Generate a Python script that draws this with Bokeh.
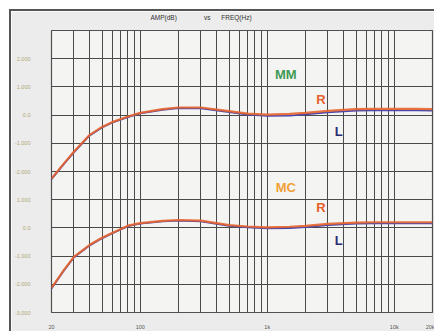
from bokeh.plotting import figure
from bokeh.models import FixedTicker, ColumnDataSource, Title
from bokeh.core.properties import value
from bokeh.embed import file_html
from bokeh.resources import INLINE

# ---- data ----
freq = [20, 25, 30, 40, 50, 60, 80, 100, 150, 200, 300, 500, 700,
        1000, 1500, 2000, 3000, 5000, 7000, 10000, 15000, 20000]
mm_r = [-2.25, -1.72, -1.30, -0.70, -0.42, -0.25, -0.05, 0.08, 0.21, 0.27, 0.27, 0.14, 0.05,
        0.02, 0.04, 0.08, 0.15, 0.21, 0.22, 0.22, 0.22, 0.21]
mm_l = [-2.27, -1.74, -1.32, -0.72, -0.44, -0.27, -0.07, 0.06, 0.19, 0.25, 0.24, 0.11, 0.02,
        -0.03, -0.02, 0.03, 0.10, 0.16, 0.17, 0.17, 0.17, 0.16]
mc_r = [-2.13, -1.50, -1.03, -0.60, -0.35, -0.18, 0.08, 0.17, 0.25, 0.28, 0.26, 0.10, 0.05,
        0.02, 0.04, 0.07, 0.14, 0.19, 0.20, 0.20, 0.20, 0.20]
mc_l = [-2.15, -1.52, -1.05, -0.62, -0.37, -0.20, 0.06, 0.15, 0.23, 0.26, 0.23, 0.07, 0.02,
        -0.02, -0.01, 0.03, 0.10, 0.15, 0.16, 0.16, 0.16, 0.16]
MC_OFFSET = -4  # MC trace drawn 4 dB divisions below MM

mm_ticks = [2, 1, 0, -1, -2]
mm_tick_labels = ["2.000", "1.000", "0.0", "-1.000", "-2.000"]
mc_ticks = [1, 0, -1, -2, -3]
mc_tick_labels = ["1.000", "0.0", "-1.000", "-2.000", "-3.000"]

x_ticks = [20, 100, 1000, 10000, 20000]
x_tick_labels = ["20", "100", "1k", "10k", "20k"]

grid_freqs = [m * d for d in (10, 100, 1000, 10000) for m in range(1, 10)
              if 20 <= m * d <= 20000] + [20000]
grid_levels = list(range(-7, 4))

title_text = "AMP(dB)" + "\u00a0" * 15 + "vs" + "\u00a0" * 6 + "FREQ(Hz)"

# text annotations: (text, freq, level, color)
notes = [("MM", 1400, 1.45, "#3f9a55"), ("R", 2650, 0.57, "#e8602a"), ("L", 3650, -0.57, "#2c2c70"),
         ("MC", 1400, -2.58, "#f0a035"), ("R", 2650, -3.29, "#e8602a"), ("L", 3650, -4.43, "#2c2c70")]

# ---- figure ----
p = figure(width=425, height=322, x_axis_type="log", x_range=(20, 20000), y_range=(-7, 3),
           output_backend="svg", toolbar_location=None, title=None,
           min_border_left=40, min_border_right=4, min_border_top=19, min_border_bottom=21,
           background_fill_color="#f4f4f3", border_fill_color="#ebeceb")
p.styles = {"border-left": "2px solid #555", "border-top": "2px solid #555",
            "margin-left": "9px", "margin-top": "9px"}

# spacer panel next to the frame, then the real title further out
p.add_layout(Title(text="\u00a0", text_font="Liberation Sans", text_font_size="6.5px",
                   standoff=1), "above")
p.add_layout(Title(text=title_text, align="left", offset=99, text_font="Liberation Sans",
                   text_font_size="6.5px", text_font_style="normal", text_color="#333333",
                   standoff=0), "above")

p.outline_line_color = "#505050"
p.outline_line_width = 1.2

p.xgrid.ticker = FixedTicker(ticks=grid_freqs)
p.ygrid.ticker = FixedTicker(ticks=grid_levels)
for g in (p.xgrid, p.ygrid):
    g.grid_line_color = "#4a4a4a"
    g.grid_line_width = 1
    g.grid_line_alpha = 1

p.xaxis.ticker = FixedTicker(ticks=x_ticks)
p.xaxis.major_label_overrides = {t: s for t, s in zip(x_ticks, x_tick_labels)}
p.xaxis.axis_line_color = None
p.xaxis.major_tick_line_color = None
p.xaxis.minor_tick_line_color = None
p.xaxis.major_label_text_font = "Liberation Sans"
p.xaxis.major_label_text_font_size = "5.5px"
p.xaxis.major_label_text_color = "#555555"
p.xaxis.major_label_standoff = 5

# y tick labels: MM scale above, MC scale below (MC shifted by MC_OFFSET)
y_pos = mm_ticks + [t + MC_OFFSET for t in mc_ticks]
y_lab = mm_tick_labels + mc_tick_labels
p.yaxis.ticker = FixedTicker(ticks=y_pos)
p.yaxis.major_label_overrides = {t: s for t, s in zip(y_pos, y_lab)}
p.yaxis.axis_line_color = None
p.yaxis.major_tick_line_color = None
p.yaxis.minor_tick_line_color = None
p.yaxis.major_label_text_font = "Liberation Sans"
p.yaxis.major_label_text_font_size = "5.5px"
p.yaxis.major_label_text_color = "#b0a878"
p.yaxis.major_label_standoff = 15

# curves
p.line(freq, mm_l, line_color="#4848b0", line_width=1.8)
p.line(freq, mm_r, line_color="#e8652e", line_width=2.2, line_alpha=0.9)
p.line(freq, [v + MC_OFFSET for v in mc_l], line_color="#4848b0", line_width=1.8)
p.line(freq, [v + MC_OFFSET for v in mc_r], line_color="#e8652e", line_width=2.2, line_alpha=0.9)

nsrc = ColumnDataSource(dict(t=[n[0] for n in notes], x=[n[1] for n in notes],
                             y=[n[2] for n in notes], c=[n[3] for n in notes]))
p.text(x="x", y="y", text="t", source=nsrc, text_color="c", text_align="center",
       text_baseline="middle", text_font=value("Liberation Sans"), text_font_size="13px",
       text_font_style="bold")

html = file_html(p, INLINE)
html = html.replace("<body>", '<body style="background:#e5e7ea">', 1)
open("out.html", "w").write(html)
